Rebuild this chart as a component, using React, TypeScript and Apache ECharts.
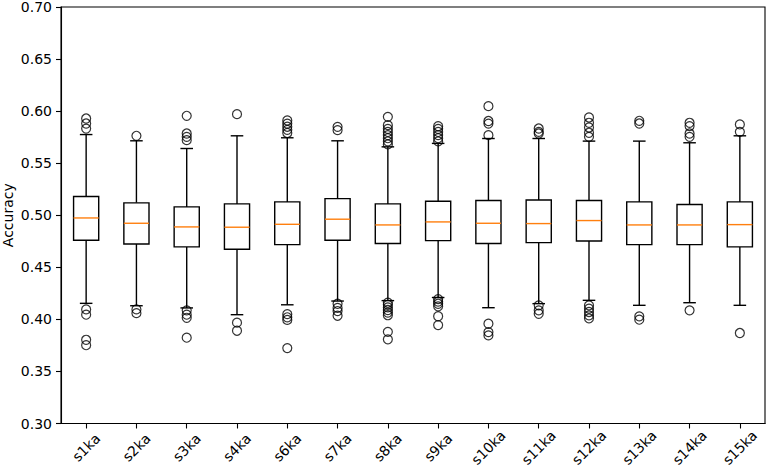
import React, { useEffect, useRef } from "react";
import * as echarts from "echarts";

const categories = ["s1ka", "s2ka", "s3ka", "s4ka", "s6ka", "s7ka", "s8ka", "s9ka", "s10ka", "s11ka", "s12ka", "s13ka", "s14ka", "s15ka"];

const lowerWhisker = [0.4154, 0.4131, 0.411, 0.4045, 0.414, 0.4176, 0.418, 0.421, 0.4112, 0.4151, 0.4183, 0.4135, 0.416, 0.4135];
const q1 = [0.476, 0.4724, 0.4696, 0.4673, 0.4718, 0.476, 0.4728, 0.4756, 0.4728, 0.4737, 0.4753, 0.4718, 0.4718, 0.4696];
const median = [0.4974, 0.4923, 0.4888, 0.4885, 0.4913, 0.4962, 0.4907, 0.4936, 0.4923, 0.492, 0.4949, 0.4907, 0.4907, 0.491];
const q3 = [0.518, 0.5119, 0.508, 0.5109, 0.5128, 0.516, 0.5109, 0.5135, 0.5141, 0.5147, 0.5141, 0.5128, 0.5103, 0.5128];
const upperWhisker = [0.5775, 0.5715, 0.5641, 0.5763, 0.5744, 0.5715, 0.5657, 0.569, 0.5737, 0.5737, 0.5712, 0.5712, 0.5696, 0.5763];

const outliers: number[][] = [
  [0.5929, 0.5881, 0.5832, 0.4096, 0.4045, 0.3804, 0.3752],
  [0.5763, 0.4096, 0.406],
  [0.5955, 0.5785, 0.5753, 0.5721, 0.4087, 0.4045, 0.4015, 0.3824],
  [0.5971, 0.3968, 0.3891],
  [0.591, 0.588, 0.585, 0.582, 0.579, 0.405, 0.402, 0.3995, 0.3724],
  [0.5849, 0.5817, 0.415, 0.411, 0.408, 0.4035],
  [0.5945, 0.5865, 0.583, 0.58, 0.577, 0.574, 0.571, 0.568, 0.416, 0.414, 0.4115, 0.409, 0.4065, 0.404, 0.388, 0.3808],
  [0.5855, 0.583, 0.58, 0.577, 0.574, 0.571, 0.4195, 0.417, 0.415, 0.4125, 0.403, 0.3945],
  [0.6048, 0.5905, 0.588, 0.5769, 0.3958, 0.3878, 0.3846],
  [0.5833, 0.5801, 0.5785, 0.4135, 0.4087, 0.4054],
  [0.5939, 0.5888, 0.5843, 0.5792, 0.5753, 0.4135, 0.4103, 0.4071, 0.4038, 0.401],
  [0.5907, 0.5881, 0.4029, 0.3997],
  [0.5888, 0.5856, 0.5785, 0.5753, 0.4087],
  [0.5872, 0.5801, 0.3869],
];

const yMin = 0.3;
const yMax = 0.7;
const yStep = 0.05;

export default function App() {
  const ref = useRef<HTMLDivElement>(null);
  useEffect(() => {
    if (!ref.current) return;
    const chart = echarts.init(ref.current, null, { renderer: "svg" });
    const boxData = categories.map((_, i) => [i, lowerWhisker[i], q1[i], median[i], q3[i], upperWhisker[i]]);
    const outlierData: number[][] = [];
    outliers.forEach((arr, i) => arr.forEach((v) => outlierData.push([i, v])));
    const font = "DejaVu Sans";
    const lw = 1.4;
    chart.setOption({
      animation: false,
      backgroundColor: "#fff",
      grid: {
        left: 61, right: 3, top: 7, bottom: 46.5,
        containLabel: false, outerBoundsMode: "none",
        show: true, borderColor: "#000", borderWidth: 1.1, backgroundColor: "transparent",
      },
      xAxis: {
        type: "category",
        data: categories,
        boundaryGap: true,
        axisLine: { show: true, lineStyle: { color: "#000", width: 1.1 } },
        axisTick: { show: true, alignWithLabel: true, length: 5, lineStyle: { color: "#000", width: 1.1 } },
        axisLabel: {
          rotate: 45,
          align: "center",
          verticalAlign: "middle",
          margin: 24,
          color: "#000",
          fontSize: 14,
          fontFamily: font,
          interval: 0,
        },
        splitLine: { show: false },
      },
      yAxis: {
        type: "value",
        min: yMin,
        max: yMax,
        interval: yStep,
        name: "Accuracy",
        nameLocation: "middle",
        nameGap: 46,
        nameMoveOverlap: false,
        nameTextStyle: { color: "#000", fontSize: 14, fontFamily: font },
        axisLine: { show: true, lineStyle: { color: "#000", width: 1.1 } },
        axisTick: { show: true, length: 5, lineStyle: { color: "#000", width: 1.1 } },
        axisLabel: { color: "#000", fontSize: 14, fontFamily: font, margin: 9, formatter: (v: number) => v.toFixed(2) },
        splitLine: { show: false },
      },
      series: [
        {
          type: "custom",
          data: boxData,
          encode: { x: 0, y: [1, 2, 3, 4, 5] },
          renderItem: (params: any, api: any) => {
            const x = api.value(0);
            const lo = api.coord([x, api.value(1)]);
            const b1 = api.coord([x, api.value(2)]);
            const m = api.coord([x, api.value(3)]);
            const b3 = api.coord([x, api.value(4)]);
            const hi = api.coord([x, api.value(5)]);
            const band = api.size([1, 0])[0];
            const bw = band * 0.5;
            const cw = bw * 0.5;
            const cx = lo[0];
            const blk = { stroke: "#000", lineWidth: lw, fill: "none" };
            return {
              type: "group",
              children: [
                { type: "line", shape: { x1: cx, y1: lo[1], x2: cx, y2: b1[1] }, style: blk },
                { type: "line", shape: { x1: cx, y1: b3[1], x2: cx, y2: hi[1] }, style: blk },
                { type: "line", shape: { x1: cx - cw / 2, y1: lo[1], x2: cx + cw / 2, y2: lo[1] }, style: blk },
                { type: "line", shape: { x1: cx - cw / 2, y1: hi[1], x2: cx + cw / 2, y2: hi[1] }, style: blk },
                { type: "rect", shape: { x: cx - bw / 2, y: b3[1], width: bw, height: b1[1] - b3[1] }, style: { stroke: "#000", lineWidth: lw, fill: "#fff" } },
                { type: "line", shape: { x1: cx - bw / 2, y1: m[1], x2: cx + bw / 2, y2: m[1] }, style: { stroke: "#ff7f0e", lineWidth: lw } },
              ],
            };
          },
          z: 2,
        },
        {
          type: "scatter",
          data: outlierData,
          symbol: "circle",
          symbolSize: 9,
          itemStyle: { color: "rgba(0,0,0,0)", borderColor: "#000", borderWidth: 1.2 },
          z: 3,
        },
      ],
    });
    return () => chart.dispose();
  }, []);
  return <div ref={ref} style={{ position: "fixed", left: 0, top: 0, width: 768, height: 470, background: "#fff" }} />;
}
